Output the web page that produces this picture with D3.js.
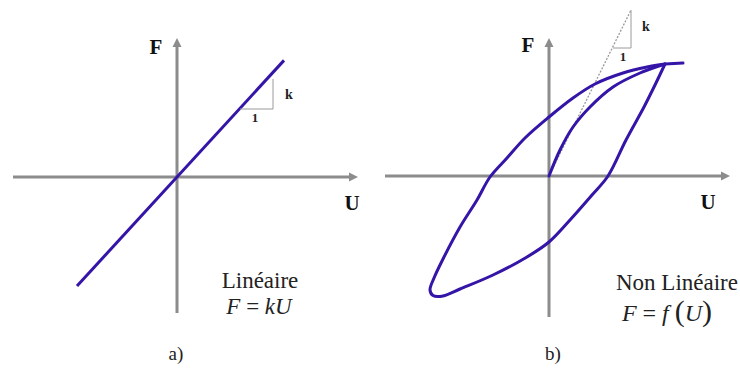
<!DOCTYPE html>
<html><head><meta charset="utf-8">
<script src="https://cdn.jsdelivr.net/npm/d3@7"></script>
<style>body{margin:0;background:#fff}svg{display:block}text{font-family:"Liberation Serif","DejaVu Serif",serif}</style>
</head><body>
<svg id="c" width="740" height="369"></svg>
<script>
// ---- data ----
const panelLabels = ["a)", "b)"];
const titlesA = ["Linéaire"];
const titlesB = ["Non Linéaire"];
const kLinear = 1.09;
const linearU = [-1.0, 1.07];
const linearTriangle = [[0.63, 0.68], [0.96, 0.68], [0.96, 0.98]];
const virginU = [0, 0.11, 0.24, 0.41, 0.64, 0.91, 1.16];
const virginF = [0, 0.26, 0.49, 0.69, 0.89, 1.03, 1.12];
const descU = [1.16, 1.06, 0.95, 0.77, 0.59, 0.43, 0.21, 0, -0.22, -0.56, -0.89, -1.06, -1.16];
const descF = [1.12, 0.91, 0.69, 0.36, 0.00, -0.19, -0.44, -0.66, -0.81, -0.99, -1.13, -1.20, -1.195];
const ascU = [-1.19, -1.15, -1.06, -0.89, -0.72, -0.59, -0.42, -0.24, 0, 0.24, 0.46, 0.74, 0.98, 1.16];
const ascF = [-1.14, -1.02, -0.83, -0.51, -0.24, -0.01, 0.18, 0.38, 0.59, 0.78, 0.92, 1.03, 1.09, 1.12];
const flatU = [1.16, 1.34];
const flatF = [1.12, 1.13];
const tangentU = [0, 0.82];
const tangentF = [0, 1.66];
const nlTriangle = [[0.64, 1.28], [0.82, 1.28], [0.82, 1.66]];

// ---- layout ----
const svg = d3.select("#c");
const axisCol = "#8c8c8c", curveCol = "#3415a8";

const xA = d3.scaleLinear().domain([-1.64, 1.81]).range([13, 358]);
const yA = d3.scaleLinear().domain([-1.36, 1.39]).range([313, 38]);
const xB = d3.scaleLinear().domain([-1.64, 1.81]).range([385, 730]);
const yB = d3.scaleLinear().domain([-1.41, 1.38]).range([317, 38]);

function axes(x, y) {
  const g = svg.append("g");
  const x0 = x(0), y0 = y(0);
  const [xl, xr] = x.range(), [yb, yt] = y.range();
  g.append("line").attr("x1", xl).attr("x2", xr - 6).attr("y1", y0).attr("y2", y0)
    .attr("stroke", axisCol).attr("stroke-width", 3);
  g.append("path").attr("d", `M${xr},${y0} L${xr - 9},${y0 - 4.5} L${xr - 9},${y0 + 4.5}Z`).attr("fill", axisCol);
  g.append("line").attr("x1", x0).attr("x2", x0).attr("y1", yb).attr("y2", yt + 6)
    .attr("stroke", axisCol).attr("stroke-width", 3);
  g.append("path").attr("d", `M${x0},${yt} L${x0 - 4.5},${yt + 9} L${x0 + 4.5},${yt + 9}Z`).attr("fill", axisCol);
}
axes(xA, yA);
axes(xB, yB);

function letter(txt, px, py) {
  svg.append("text").attr("x", px).attr("y", py).attr("text-anchor", "middle")
    .attr("font-weight", "bold").attr("font-size", 21).attr("fill", "#111").text(txt);
}
letter("F", xA(0) - 21, yA(1.39) + 16);
letter("U", xA(1.75), yA(0) + 33);
letter("F", xB(0) - 21, yB(1.38) + 14);
letter("U", xB(1.59), yB(0) + 33);

// panel a
const lineA = d3.line().x(d => xA(d)).y(d => yA(kLinear * d));
svg.append("path").attr("d", lineA(linearU)).attr("fill", "none").attr("stroke", curveCol).attr("stroke-width", 3);
svg.append("path").attr("d", d3.line().x(d => xA(d[0])).y(d => yA(d[1]))(linearTriangle))
  .attr("fill", "none").attr("stroke", "#9a9a9a").attr("stroke-width", 1);
svg.append("text").attr("x", xA(0.96) + 12).attr("y", yA(0.83) + 5)
  .attr("font-weight", "bold").attr("font-size", 14).attr("fill", "#222").text("k");
svg.append("text").attr("x", xA(0.78)).attr("y", yA(0.68) + 13).attr("text-anchor", "middle")
  .attr("font-weight", "bold").attr("font-size", 13).attr("fill", "#222").text("1");

// panel b
const lineB = d3.line().x(d => xB(d[0])).y(d => yB(d[1]));
svg.append("path").attr("d", lineB(tangentU.map((u, i) => [u, tangentF[i]])))
  .attr("fill", "none").attr("stroke", "#999").attr("stroke-width", 1.3).attr("stroke-dasharray", "2,1.5");
svg.append("path").attr("d", lineB(nlTriangle)).attr("fill", "none").attr("stroke", "#9a9a9a").attr("stroke-width", 1);
svg.append("text").attr("x", xB(0.82) + 11).attr("y", yB(1.5) + 5)
  .attr("font-weight", "bold").attr("font-size", 14).attr("fill", "#222").text("k");
svg.append("text").attr("x", xB(0.74)).attr("y", yB(1.28) + 13).attr("text-anchor", "middle")
  .attr("font-weight", "bold").attr("font-size", 13).attr("fill", "#222").text("1");

const curve = d3.line().x(d => xB(d[0])).y(d => yB(d[1])).curve(d3.curveCatmullRom.alpha(0.5));
const virgin = virginU.map((u, i) => [u, virginF[i]]);
const loop = descU.map((u, i) => [u, descF[i]]).concat(ascU.map((u, i) => [u, ascF[i]]));
const flat = flatU.map((u, i) => [u, flatF[i]]);
[virgin, loop, flat].forEach(pts => {
  svg.append("path").attr("d", curve(pts)).attr("fill", "none").attr("stroke", curveCol)
    .attr("stroke-width", 3).attr("stroke-linejoin", "round").attr("stroke-linecap", "round");
});

// captions
svg.append("text").attr("x", 260).attr("y", 288).attr("text-anchor", "middle")
  .attr("font-size", 23).attr("fill", "#222").text(titlesA[0]);
const fa = svg.append("text").attr("x", 259).attr("y", 314).attr("text-anchor", "middle")
  .attr("font-size", 23).attr("fill", "#222");
fa.append("tspan").attr("font-style", "italic").text("F");
fa.append("tspan").text(" = ");
fa.append("tspan").attr("font-style", "italic").text("kU");

svg.append("text").attr("x", 677).attr("y", 290).attr("text-anchor", "middle")
  .attr("font-size", 23).attr("fill", "#222").text(titlesB[0]);
const fb = svg.append("text").attr("x", 667).attr("y", 321).attr("text-anchor", "middle")
  .attr("font-size", 24).attr("fill", "#222");
fb.append("tspan").attr("font-style", "italic").text("F");
fb.append("tspan").text(" = ");
fb.append("tspan").attr("font-style", "italic").text("f ");
fb.append("tspan").attr("font-size", 30).text("(");
fb.append("tspan").attr("font-style", "italic").text("U");
fb.append("tspan").attr("font-size", 30).text(")");

svg.append("text").attr("x", 176).attr("y", 360).attr("text-anchor", "middle")
  .attr("font-size", 19).attr("fill", "#222").text(panelLabels[0]);
svg.append("text").attr("x", 553).attr("y", 360).attr("text-anchor", "middle")
  .attr("font-size", 19).attr("fill", "#222").text(panelLabels[1]);
</script>
</body></html>
